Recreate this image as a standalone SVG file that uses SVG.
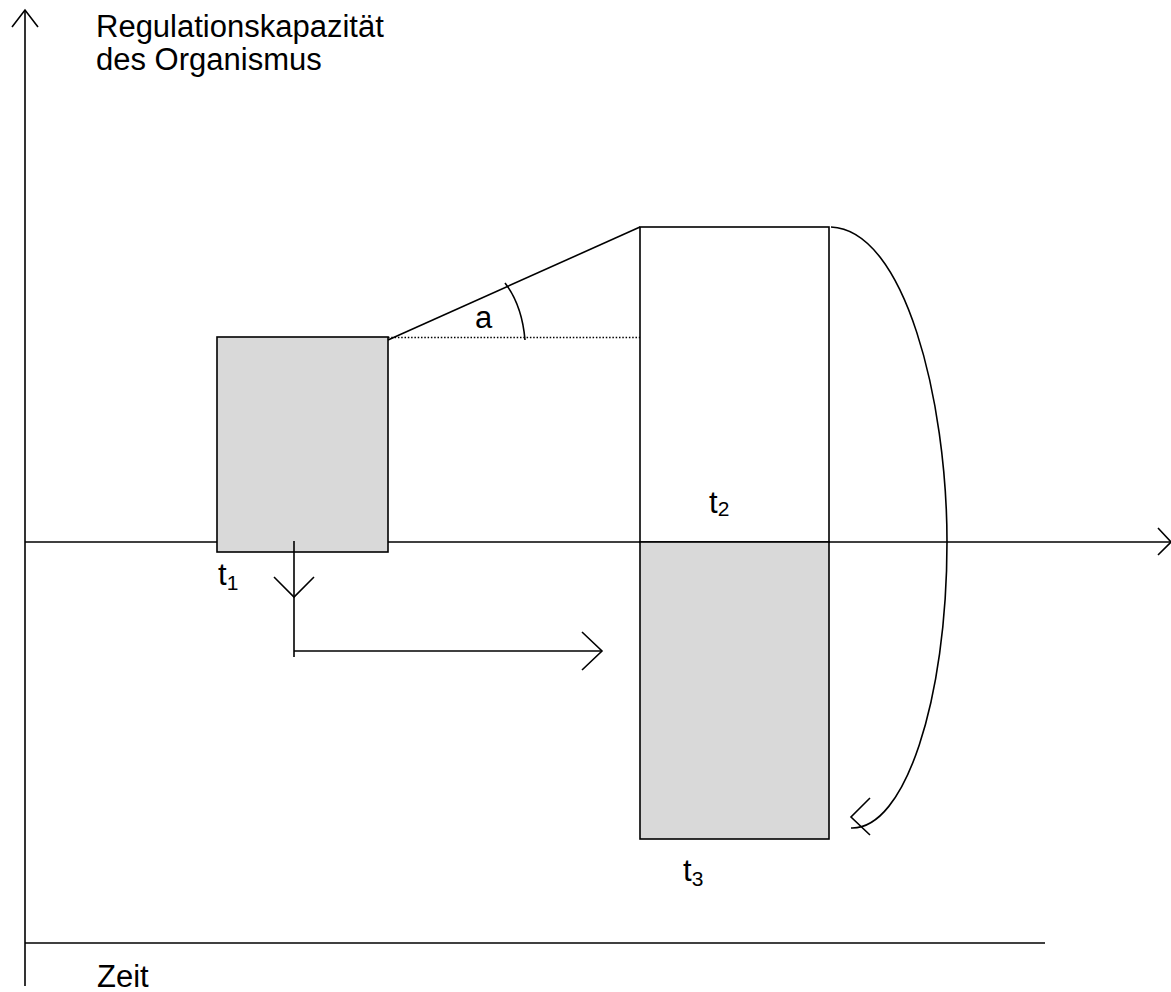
<svg xmlns="http://www.w3.org/2000/svg" width="1171" height="992" viewBox="0 0 1171 992">
<style>
.ln{stroke:#000;stroke-width:1.6;fill:none}
.box{stroke:#000;stroke-width:1.6}
.g{fill:#d9d9d9}
.w{fill:#fff}
.t{font-family:"Liberation Sans",Arial,sans-serif;font-size:31px;fill:#000}
.s{font-family:"Liberation Sans",Arial,sans-serif;font-size:21px;fill:#000}
</style>
<rect width="1171" height="992" fill="#fff"/>
<g id="axes">
<line class="ln" x1="25" y1="10" x2="25" y2="986"/>
<polyline class="ln" points="12,27 25,10 38,27"/>
<line class="ln" x1="25" y1="542" x2="1171" y2="542"/>
<polyline class="ln" points="1158,528 1171,542 1158,555"/>
<line class="ln" x1="25" y1="943" x2="1045" y2="943"/>
<text class="t" x="96" y="37">Regulationskapazität</text>
<text class="t" x="96" y="70">des Organismus</text>
<text class="t" x="97" y="987">Zeit</text>
</g>
<g id="box-t1">
<rect class="box g" x="217" y="337" width="171" height="215"/>
<text class="t" x="218" y="585">t<tspan class="s" dy="5">1</tspan></text>
</g>
<g id="box-t2">
<rect class="box w" x="640" y="227" width="189" height="315"/>
<text class="t" x="709" y="513">t<tspan class="s" dy="3">2</tspan></text>
</g>
<g id="box-t3">
<rect class="box g" x="640" y="542" width="189" height="297"/>
<text class="t" x="683" y="881">t<tspan class="s" dy="5">3</tspan></text>
</g>
<g id="connectors">
<line class="ln" x1="388" y1="340" x2="640" y2="227"/>
<line x1="388" y1="337.5" x2="640" y2="337.5" stroke="#000" stroke-width="1.5" stroke-dasharray="1.5,1.8"/>
<path class="ln" d="M505,283 Q522,305 525,340"/>
<text class="t" x="475" y="328">a</text>
<line class="ln" x1="294" y1="541" x2="294" y2="657"/>
<polyline class="ln" points="274,577 294,597 314,577"/>
<line class="ln" x1="294" y1="651" x2="602" y2="651"/>
<polyline class="ln" points="582,632 602,651 582,670"/>
<path class="ln" d="M831,227 C905,230 947,400 947,542 C947,700 905,830 851,828"/>
<polyline class="ln" points="870,798 851,817 870,835"/>
</g>
</svg>
